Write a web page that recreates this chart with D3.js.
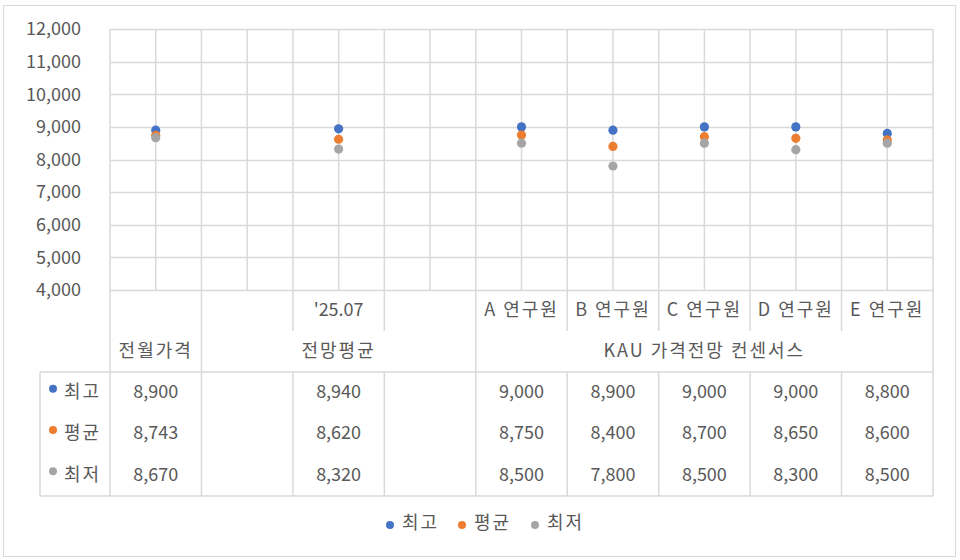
<!DOCTYPE html>
<html>
<head>
<meta charset="utf-8">
<script src="https://cdn.jsdelivr.net/npm/d3@7"></script>
<style>
  body { margin: 0; background: #fff; }
  svg text { font-family: "Noto Sans CJK KR", "Noto Sans", sans-serif; fill: #595959; }
  svg text.ko { letter-spacing: 2px; }
</style>
</head>
<body>
<div class="chart"></div>
<script>
// categories (blank ones keep the spacing of the original sheet)
var categories = ["prev", "gap1", "m2507", "gap2", "A", "B", "C", "D", "E"];
var catLabels = ["", "", "'25.07", "", "A 연구원", "B 연구원", "C 연구원", "D 연구원", "E 연구원"];
var groupNames = ["전월가격", "전망평균", "KAU 가격전망 컨센서스"];
var groupSpans = [1, 3, 5];

var seriesNames = ["최고", "평균", "최저"];
var highValues = [8900, null, 8940, null, 9000, 8900, 9000, 9000, 8800];
var avgValues = [8743, null, 8620, null, 8750, 8400, 8700, 8650, 8600];
var lowValues = [8670, null, 8320, null, 8500, 7800, 8500, 8300, 8500];
var yTicks = [4000, 5000, 6000, 7000, 8000, 9000, 10000, 11000, 12000];

var width = 960;
var height = 560;
var margin = ({ top: 29, right: 27, bottom: 270, left: 110 });
var gridColor = "#d9d9d9";
var colors = ["#4472c4", "#ed7d31", "#a5a5a5"];
var fontSize = "18px";

var svg = d3.select("div.chart")
    .append("svg")
    .attr("width", width)
    .attr("height", height);

// outer chart border
svg.append("rect")
    .attr("x", 3.5).attr("y", 5.5)
    .attr("width", 952).attr("height", 551)
    .attr("fill", "none")
    .attr("stroke", gridColor);

var x = d3.scaleBand()
    .domain(categories)
    .range([margin.left, width - margin.right])
    .padding(0);
var y = d3.scaleLinear()
    .domain([4000, 12000])
    .range([height - margin.bottom, margin.top]);

var plotBottom = y(4000);

// horizontal grid + y tick labels
var yAxis = g => g
    .attr("transform", `translate(${margin.left},0)`)
    .call(d3.axisLeft(y).tickValues(yTicks).tickFormat(d3.format(",")).tickSize(0).tickPadding(29))
    .call(g => g.select(".domain").remove())
    .call(g => g.selectAll("text").style("font-size", fontSize).attr("fill", "#595959"));
svg.append("g").call(yAxis);

svg.append("g")
    .selectAll("line")
    .data(yTicks)
    .join("line")
      .attr("x1", margin.left).attr("x2", width - margin.right)
      .attr("y1", d => Math.round(y(d)) + 0.5).attr("y2", d => Math.round(y(d)) + 0.5)
      .attr("stroke", gridColor).attr("stroke-width", 1.5);

// vertical grid at category borders and centres
var vLines = [];
categories.forEach(c => { vLines.push(x(c)); vLines.push(x(c) + x.bandwidth() / 2); });
vLines.push(x.range()[1]);
svg.append("g")
    .selectAll("line")
    .data(vLines)
    .join("line")
      .attr("x1", d => d).attr("x2", d => d)
      .attr("y1", margin.top).attr("y2", plotBottom)
      .attr("stroke", gridColor).attr("stroke-width", 1.5);

// markers: high first, low on top
var series = [highValues, avgValues, lowValues];
series.forEach((vals, si) => {
    svg.append("g")
        .selectAll("circle")
        .data(vals.map((v, i) => ({ cat: categories[i], v: v })).filter(d => d.v != null))
        .join("circle")
          .attr("cx", d => x(d.cat) + x.bandwidth() / 2)
          .attr("cy", d => y(d.v))
          .attr("r", 4.6)
          .attr("fill", colors[si]);
});

// data table under the plot
var row1Bottom = plotBottom + 41;
var row2Bottom = plotBottom + 82;
var tableBottom = row2Bottom + 124;
var rowH = (tableBottom - row2Bottom) / 3;
var tableLeft = 40;
var table = svg.append("g")
    .attr("stroke", gridColor)
    .attr("stroke-width", 1.5);

// category label row
var edges = categories.map(c => x(c)).concat([x.range()[1]]);
var groupEdges = [0];
groupSpans.forEach((s, i) => groupEdges.push(groupEdges[i] + s));
table.selectAll("line.cat")
    .data(edges)
    .join("line")
      .attr("class", "cat")
      .attr("x1", d => d).attr("x2", d => d)
      .attr("y1", plotBottom)
      .attr("y2", (d, i) => groupEdges.includes(i) ? row2Bottom : row1Bottom);

svg.append("g")
    .selectAll("text")
    .data(catLabels)
    .join("text")
      .attr("class", d => /[가-힣]/.test(d) ? "ko" : null)
      .attr("x", (d, i) => x(categories[i]) + x.bandwidth() / 2)
      .attr("y", plotBottom + 20)
      .attr("dy", "0.35em")
      .attr("text-anchor", "middle")
      .style("font-size", fontSize)
      .text(d => d);

// group label row
svg.append("g")
    .selectAll("text")
    .data(groupNames)
    .join("text")
      .attr("class", "ko")
      .attr("x", (d, i) => (edges[groupEdges[i]] + edges[groupEdges[i + 1]]) / 2)
      .attr("y", row1Bottom + 20)
      .attr("dy", "0.35em")
      .attr("text-anchor", "middle")
      .style("font-size", fontSize)
      .text(d => d);

// value rows
table.append("line")
    .attr("x1", tableLeft).attr("x2", x.range()[1])
    .attr("y1", row2Bottom).attr("y2", row2Bottom);
table.append("line")
    .attr("x1", tableLeft).attr("x2", x.range()[1])
    .attr("y1", tableBottom).attr("y2", tableBottom);
table.selectAll("line.val")
    .data([tableLeft].concat(edges))
    .join("line")
      .attr("class", "val")
      .attr("x1", d => d).attr("x2", d => d)
      .attr("y1", row2Bottom).attr("y2", tableBottom);

var fmt = d3.format(",");
series.forEach((vals, si) => {
    var cy = row2Bottom + rowH * (si + 0.5) - 1;
    var row = svg.append("g");
    row.append("circle")
        .attr("cx", 53).attr("cy", cy - 3)
        .attr("r", 4)
        .attr("fill", colors[si]);
    row.append("text")
        .attr("class", "ko")
        .attr("x", 64).attr("y", cy)
        .attr("dy", "0.35em")
        .style("font-size", fontSize)
        .text(seriesNames[si]);
    row.selectAll("text.v")
        .data(vals.map((v, i) => ({ cat: categories[i], v: v })).filter(d => d.v != null))
        .join("text")
          .attr("class", "v")
          .attr("x", d => x(d.cat) + x.bandwidth() / 2)
          .attr("y", cy)
          .attr("dy", "0.35em")
          .attr("text-anchor", "middle")
          .style("font-size", fontSize)
          .text(d => fmt(d.v));
});

// legend
var legendX = [390, 462, 535];
var legend = svg.append("g")
    .selectAll("g")
    .data(seriesNames)
    .join("g")
      .attr("transform", (d, i) => `translate(${legendX[i]},525)`);
legend.append("circle")
    .attr("r", 4)
    .attr("fill", (d, i) => colors[i]);
legend.append("text")
    .attr("class", "ko")
    .attr("x", 12)
    .attr("y", -2)
    .attr("dy", "0.35em")
    .style("font-size", fontSize)
    .text(d => d);
</script>
</body>
</html>
